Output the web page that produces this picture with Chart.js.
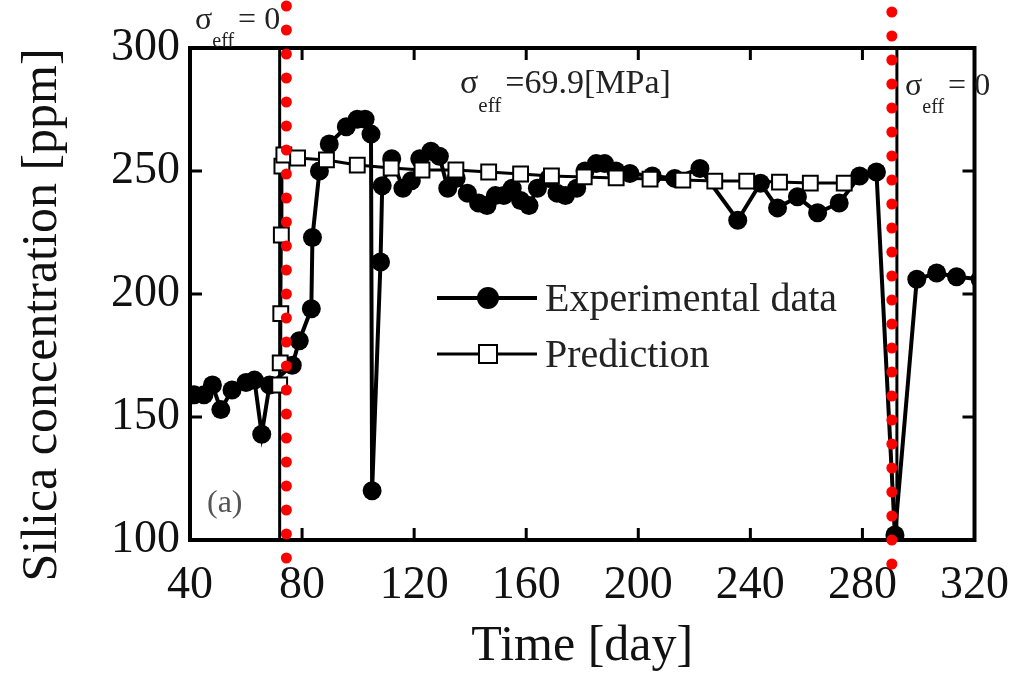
<!DOCTYPE html>
<html>
<head>
<meta charset="utf-8">
<script src="https://cdn.jsdelivr.net/npm/chart.js@4.4.0/dist/chart.umd.min.js"></script>
<style>
html, body { margin: 0; padding: 0; background: #fff; }
#wrap { width: 1027px; height: 677px; }
</style>
</head>
<body>
<div id="wrap"><canvas id="myChart"></canvas></div>
<script>
// values
var expDays = [41.5, 45, 48, 51, 55, 60, 63, 65.6, 68.4, 76.5, 79, 83.3, 83.7, 86.2, 89.7, 95.8, 99.7, 102.5, 104.6, 105,
    108, 108.6, 112, 116, 119, 122, 126, 129, 132, 135, 139, 143, 146, 149, 152, 155, 158, 161, 164, 168,
    171, 174, 178, 181, 185, 188, 192, 197, 205, 213, 222, 235.5, 243.6, 249.7, 256.8, 264, 271.7, 279, 285, 291.6,
    299.4, 306.5, 313.6, 322];
var expPpm = [159, 159, 163, 153, 161, 164, 165, 143, 163, 171, 181, 194, 223, 250, 261, 268, 271, 271, 265, 120,
    213, 244, 255, 243, 246, 255, 258, 256, 243, 247, 241, 237, 236, 240, 240, 243, 238, 236, 243, 247,
    241, 240, 243, 250, 253, 253, 250, 249, 248, 247, 251, 230, 245, 235, 239.5, 233, 237, 248, 249.6, 102,
    206, 208.5, 207, 206];

var predDays = [72, 72.2, 72.4, 72.6, 72.8, 73.5, 78.4, 88.7, 99.7, 111.8, 122.8, 134.9, 146.6, 158, 169,
    180.7, 192.1, 204.2, 215.9, 227.3, 238.7, 250.4, 261.4, 273.5];
var predPpm = [163, 172, 192, 224, 252, 256.5, 255.3, 254.5, 252.4, 251.2, 250.4, 250.4, 249.6, 248.8, 248,
    247.6, 247.2, 246.7, 246.3, 245.9, 245.9, 245.5, 245.1, 245.1];

var xTicks = [40, 80, 120, 160, 200, 240, 280, 320];
var yTicks = [100, 150, 200, 250, 300];

var boundaryDays = [72, 292.3];   // solid lines: change of sigma_eff
var markDays = [74.4, 290.5];     // red dotted marks

var serif = '"Liberation Serif", "DejaVu Serif", serif';

function toPoints(xs, ys) {
    return xs.map(function (x, i) { return { x: x, y: ys[i] }; });
}

function drawSigma(ctx, x, y, rest, size) {
    ctx.font = size + 'px ' + serif;
    ctx.fillText('σ', x, y);
    var w = ctx.measureText('σ').width;
    ctx.font = Math.round(size * 0.62) + 'px ' + serif;
    ctx.fillText('eff', x + w, y + size * 0.55);
    var w2 = ctx.measureText('eff').width;
    ctx.font = size + 'px ' + serif;
    ctx.fillText(rest, x + w + w2 + 4, y);
}

var framePlugin = {
    id: 'frame',
    beforeDatasetsDraw: function (chart) {
        var ctx = chart.ctx, a = chart.chartArea, xs = chart.scales.x;
        ctx.save();
        ctx.strokeStyle = '#000';
        ctx.lineWidth = 3;
        boundaryDays.forEach(function (d) {
            var px = xs.getPixelForValue(d);
            ctx.beginPath();
            ctx.moveTo(px, a.top);
            ctx.lineTo(px, a.bottom);
            ctx.stroke();
        });
        ctx.restore();
    },
    afterDraw: function (chart) {
        var ctx = chart.ctx, a = chart.chartArea, xs = chart.scales.x, ys = chart.scales.y;
        ctx.save();
        // frame
        ctx.strokeStyle = '#000';
        ctx.lineWidth = 4;
        ctx.strokeRect(a.left, a.top, a.right - a.left, a.bottom - a.top);
        // inward ticks
        ctx.lineWidth = 3;
        ctx.beginPath();
        xTicks.forEach(function (t) {
            var px = xs.getPixelForValue(t);
            ctx.moveTo(px, a.bottom); ctx.lineTo(px, a.bottom - 12);
            ctx.moveTo(px, a.top); ctx.lineTo(px, a.top + 12);
        });
        yTicks.forEach(function (t) {
            var py = ys.getPixelForValue(t);
            ctx.moveTo(a.left, py); ctx.lineTo(a.left + 12, py);
            ctx.moveTo(a.right, py); ctx.lineTo(a.right - 12, py);
        });
        ctx.stroke();

        // axis titles
        ctx.fillStyle = '#111';
        ctx.textAlign = 'center';
        ctx.textBaseline = 'alphabetic';
        ctx.font = '50px ' + serif;
        ctx.fillText('Time [day]', (a.left + a.right) / 2, 660);
        ctx.save();
        ctx.translate(56, 315);
        ctx.rotate(-Math.PI / 2);
        ctx.fillText('Silica concentration [ppm]', 0, 0);
        ctx.restore();

        // annotations
        ctx.textAlign = 'left';
        ctx.fillStyle = '#222';
        drawSigma(ctx, 195, 29, '= 0', 32);
        drawSigma(ctx, 460, 93, '=69.9[MPa]', 34);
        drawSigma(ctx, 905, 95, '= 0', 32);
        ctx.fillStyle = '#555';
        ctx.font = '32px ' + serif;
        ctx.fillText('(a)', 207, 512);

        // legend
        var ds = chart.data.datasets;
        var items = [{ d: ds[1], y: 298 }, { d: ds[0], y: 354 }];
        items.forEach(function (it) {
            ctx.strokeStyle = '#000';
            ctx.lineWidth = it.d.borderWidth;
            ctx.beginPath();
            ctx.moveTo(437, it.y); ctx.lineTo(537, it.y);
            ctx.stroke();
            ctx.fillStyle = it.d.pointBackgroundColor;
            ctx.lineWidth = it.d.pointBorderWidth;
            if (it.d.pointStyle === 'rect') {
                ctx.fillRect(479, it.y - 9, 18, 18);
                ctx.strokeRect(479, it.y - 9, 18, 18);
            } else {
                ctx.beginPath();
                ctx.arc(488, it.y, 11, 0, Math.PI * 2);
                ctx.fill();
            }
            ctx.fillStyle = '#222';
            ctx.font = '40px ' + serif;
            ctx.textBaseline = 'middle';
            ctx.fillText(it.d.label, 545, it.y + 2);
            ctx.textBaseline = 'alphabetic';
        });

        // red dotted marks
        ctx.strokeStyle = '#ff0000';
        ctx.lineWidth = 11;
        ctx.lineCap = 'round';
        ctx.setLineDash([0, 24]);
        markDays.forEach(function (d, i) {
            var px = xs.getPixelForValue(d);
            ctx.beginPath();
            ctx.moveTo(px, i === 0 ? 6 : 12);
            ctx.lineTo(px, i === 0 ? a.bottom + 42 : a.bottom + 26);
            ctx.stroke();
        });
        ctx.restore();
    }
};

var ctx = document.getElementById('myChart').getContext('2d');
var chart = new Chart(ctx, {
    type: 'line',
    data: {
        datasets: [{
            label: 'Prediction',
            data: toPoints(predDays, predPpm),
            borderColor: '#000',
            borderWidth: 3,
            pointStyle: 'rect',
            pointRadius: 10.5,
            pointBackgroundColor: '#fff',
            pointBorderColor: '#000',
            pointBorderWidth: 2,
            tension: 0
        }, {
            label: 'Experimental data',
            data: toPoints(expDays, expPpm),
            borderColor: '#000',
            borderWidth: 4,
            pointStyle: 'circle',
            pointRadius: 9.5,
            pointBackgroundColor: '#000',
            pointBorderColor: '#000',
            pointBorderWidth: 0,
            tension: 0
        }]
    },
    options: {
        responsive: true,
        maintainAspectRatio: false,
        animation: false,
        events: [],
        layout: { padding: { top: 48, right: 49, left: 0, bottom: 0 } },
        plugins: {
            legend: { display: false },
            tooltip: { enabled: false }
        },
        scales: {
            x: {
                type: 'linear',
                min: 40,
                max: 320,
                afterFit: function (s) { s.height = 137; },
                afterBuildTicks: function (s) { s.ticks = xTicks.map(function (v) { return { value: v }; }); },
                grid: { display: false, drawTicks: false },
                border: { display: false },
                ticks: { color: '#111', padding: 18, font: { family: serif, size: 46 } }
            },
            y: {
                min: 100,
                max: 300,
                afterFit: function (s) { s.width = 190; },
                afterBuildTicks: function (s) { s.ticks = yTicks.map(function (v) { return { value: v }; }); },
                grid: { display: false, drawTicks: false },
                border: { display: false },
                ticks: { color: '#111', padding: 10, font: { family: serif, size: 46 } }
            }
        }
    },
    plugins: [framePlugin]
});
</script>
</body>
</html>
